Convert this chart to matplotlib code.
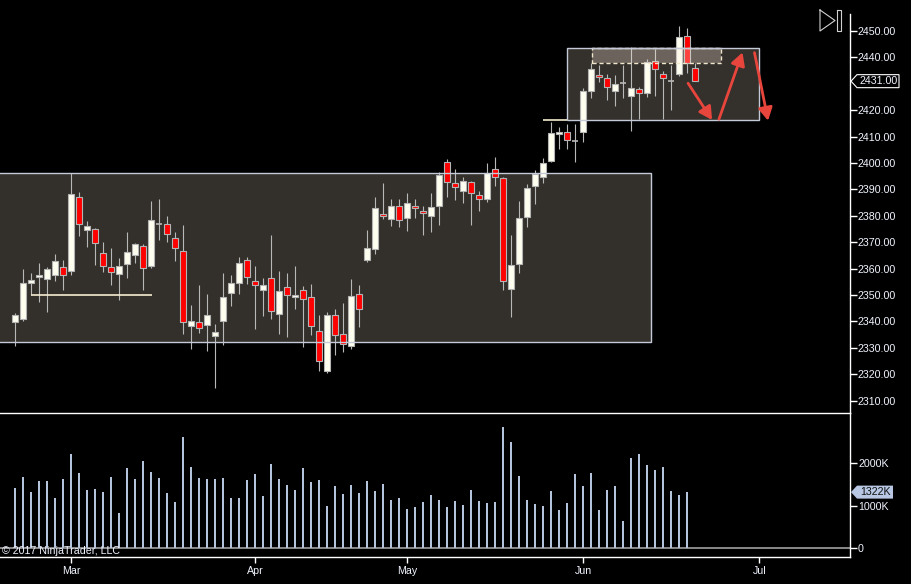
import numpy as np
import matplotlib
matplotlib.use('Agg')
import matplotlib.pyplot as plt
from matplotlib.patches import Rectangle, Polygon
from matplotlib.lines import Line2D

plt.rcParams['font.family'] = ['Liberation Sans', 'DejaVu Sans']

# daily bars, Feb 17 - Jun 21 2017 (bar index 0 = first bar)
opens = [2339.6, 2341.0, 2354.4, 2356.7, 2355.9, 2357.4, 2360.5, 2358.9, 2387.0, 2374.5,
         2374.9, 2365.8, 2360.6, 2357.8, 2361.9, 2365.3, 2368.4, 2361.1, 2376.8, 2376.8,
         2371.5, 2366.5, 2338.1, 2339.6, 2338.5, 2334.3, 2340.1, 2350.6, 2354.4, 2363.1,
         2355.2, 2351.8, 2356.3, 2342.9, 2352.9, 2349.1, 2351.8, 2349.1, 2336.2, 2321.3,
         2342.3, 2335.1, 2330.5, 2350.2, 2363.1, 2367.5, 2380.6, 2378.9, 2383.9, 2379.0,
         2383.9, 2381.7, 2379.8, 2383.6, 2400.2, 2392.3, 2389.3, 2392.7, 2387.7, 2386.2,
         2397.6, 2394.2, 2352.4, 2361.6, 2379.4, 2391.1, 2394.6, 2400.6, 2410.9, 2411.6,
         2408.4, 2411.6, 2427.1, 2433.2, 2432.1, 2427.1, 2430.2, 2425.2, 2427.9, 2426.4,
         2438.5, 2433.9, 2431.2, 2433.6, 2448.0, 2435.9]
highs = [2343.0, 2359.8, 2358.3, 2362.1, 2360.5, 2365.5, 2363.3, 2396.1, 2389.0, 2378.0,
         2375.2, 2370.1, 2367.8, 2364.0, 2373.9, 2369.6, 2369.3, 2385.6, 2386.4, 2379.9,
         2373.9, 2376.5, 2346.2, 2353.8, 2350.4, 2339.0, 2358.3, 2357.6, 2364.4, 2364.4,
         2360.8, 2356.4, 2372.6, 2359.1, 2358.3, 2361.0, 2353.3, 2354.0, 2342.4, 2343.5,
         2344.7, 2346.8, 2356.0, 2353.8, 2374.6, 2387.1, 2392.4, 2386.2, 2386.2, 2388.6,
         2386.2, 2383.6, 2388.6, 2396.7, 2401.5, 2397.7, 2394.7, 2393.0, 2389.4, 2400.0,
         2402.3, 2394.6, 2372.7, 2385.6, 2392.0, 2397.2, 2401.8, 2415.4, 2413.6, 2414.8,
         2414.8, 2428.3, 2437.8, 2437.0, 2433.7, 2433.2, 2437.3, 2443.8, 2428.9, 2439.3,
         2443.2, 2434.7, 2437.2, 2451.9, 2451.1, 2437.8]
lows = [2330.8, 2340.3, 2349.9, 2347.5, 2343.7, 2355.4, 2352.0, 2357.6, 2372.3, 2368.2,
        2361.4, 2358.7, 2353.8, 2348.2, 2356.6, 2362.2, 2352.0, 2360.3, 2370.8, 2370.2,
        2363.0, 2335.3, 2329.6, 2335.7, 2328.9, 2314.6, 2330.9, 2345.9, 2350.5, 2354.3,
        2337.2, 2342.2, 2341.0, 2335.3, 2334.2, 2344.8, 2330.4, 2335.0, 2321.3, 2320.3,
        2327.4, 2328.5, 2329.6, 2338.0, 2362.6, 2365.6, 2378.8, 2376.3, 2375.9, 2374.4,
        2379.3, 2372.9, 2373.7, 2376.6, 2387.2, 2386.1, 2385.0, 2376.6, 2381.9, 2385.3,
        2391.4, 2352.0, 2341.8, 2358.4, 2375.9, 2384.3, 2392.3, 2400.2, 2405.4, 2405.4,
        2400.5, 2408.1, 2424.7, 2430.8, 2423.9, 2421.7, 2424.6, 2412.2, 2416.8, 2425.1,
        2425.5, 2416.5, 2420.2, 2432.8, 2434.0, 2431.0]
closes = [2342.3, 2354.4, 2355.5, 2357.4, 2359.7, 2362.7, 2357.4, 2388.1, 2376.8, 2376.0,
          2369.8, 2361.1, 2358.6, 2360.8, 2366.2, 2369.2, 2360.3, 2378.3, 2376.8, 2373.0,
          2367.7, 2339.6, 2340.0, 2337.4, 2342.3, 2335.8, 2349.1, 2354.4, 2362.0, 2356.7,
          2353.6, 2353.9, 2343.8, 2351.4, 2349.9, 2349.9, 2348.3, 2338.1, 2324.9, 2342.3,
          2334.7, 2331.3, 2349.5, 2344.8, 2367.7, 2382.8, 2379.8, 2383.6, 2378.3, 2384.7,
          2383.1, 2380.9, 2383.2, 2395.5, 2392.7, 2390.8, 2393.0, 2388.5, 2386.2, 2396.1,
          2394.6, 2355.2, 2361.2, 2379.0, 2390.4, 2395.8, 2399.9, 2411.2, 2411.6, 2408.6,
          2408.4, 2427.3, 2435.5, 2432.4, 2428.7, 2429.8, 2430.2, 2428.3, 2426.4, 2438.1,
          2435.5, 2432.1, 2431.2, 2447.6, 2437.8, 2431.0]
# volume in thousands
volumes = [1419, 1678, 1325, 1584, 1584, 1184, 1631, 2219, 1772, 1372,
           1396, 1325, 1678, 831, 1889, 1631, 2054, 1795, 1654, 1301,
           1090, 2619, 1913, 1654, 1631, 1631, 1654, 1184, 1184, 1607,
           1748, 1231, 1984, 1631, 1490, 1372, 1889, 1560, 1607, 996,
           1466, 1278, 1490, 1301, 1584, 1348, 1513, 1137, 1184, 925,
           972, 1090, 1254, 1137, 972, 1113, 1019, 1372, 1113, 1066,
           1090, 2854, 2501, 1701, 1137, 1043, 996, 1348, 902, 1066,
           1748, 1466, 1772, 902, 1372, 1466, 643, 2125, 2219, 1960,
           1842, 1913, 1348, 1254, 1322]

month_labels = ['Mar', 'Apr', 'May', 'Jun', 'Jul']
month_index = [7, 30, 49, 71, 93]

# drawings on the chart (bar index, price)
range_box = (-3, 79.5, 2332.1, 2396.1)
top_box = (69, 93, 2416.3, 2443.4)
dash_box = (72.1, 88.25, 2437.8, 2443.4)
support_line = (2.0, 17.1, 2349.9)
box_ext_line = (66.0, 69.0, 2416.3)
arrows = [((84.1, 2430.2), (87.1, 2416.3)),
          ((87.96, 2416.6), (90.9, 2441.9)),
          ((92.4, 2441.8), (94.1, 2416.0))]

W, H = 911, 584
fig = plt.figure(figsize=(W / 100, H / 100), dpi=100, facecolor='black')
ax = fig.add_axes([0, 1 - 413 / H, 850 / W, (413 - 14) / H])
ax2 = fig.add_axes([0, 1 - 557 / H, 850 / W, (557 - 413) / H])

xlim = (-1.9125, 104.34)
txt = '#f0f4ff'
fs = 7.7

# price panel
ax.set_facecolor('black')
ax.set_xlim(*xlim)
ax.set_ylim(2305.3, 2456.44)
for s in ['left', 'top', 'bottom']:
    ax.spines[s].set_visible(False)
ax.spines['right'].set_color('white')
ax.spines['right'].set_linewidth(1)
ax.set_xticks([])
ax.yaxis.tick_right()
# the 2430 label sits under the last-price marker, so it is not shown
yt = [v for v in range(2310, 2451, 10) if v != 2430]
ax.set_yticks(yt)
ax.set_yticklabels([f'{v:.2f}' for v in yt])
ax.tick_params(axis='y', colors='white', labelcolor=txt, length=5, width=1, pad=0.6, labelsize=fs)

x = np.arange(len(opens))
o = np.array(opens); c = np.array(closes)
up = c > o
down = c < o
flat = c == o

# boxes (fill behind)
x0, x1, y0, y1 = range_box
ax.add_patch(Rectangle((x0, y0), x1 - x0, y1 - y0, facecolor='#33302b', edgecolor='none', zorder=0.5))
x0, x1, y0, y1 = top_box
ax.add_patch(Rectangle((x0, y0), x1 - x0, y1 - y0, facecolor='#34302b', edgecolor='none', zorder=0.5))

ax.vlines(x, lows, highs, color='#b8b8b8', linewidth=0.8, zorder=1.5)
ax.bar(x[up], (c - o)[up], bottom=o[up], width=0.8, color='#fffff0', edgecolor='#b4b4b4',
       linewidth=0.8, zorder=2)
ax.bar(x[down], (o - c)[down], bottom=c[down], width=0.8, color='#ff0000', edgecolor='#b4b4b4',
       linewidth=0.8, zorder=2)
ax.hlines(c[flat], x[flat] - 0.4, x[flat] + 0.4, color='#b8b8b8', linewidth=1.2, zorder=2)

# box outlines on top
for bx in (range_box, top_box):
    x0, x1, y0, y1 = bx
    ax.add_patch(Rectangle((x0, y0), x1 - x0, y1 - y0, facecolor='none', edgecolor='#c4cad8',
                           linewidth=1.0, zorder=3))
x0, x1, y0, y1 = dash_box
ax.add_patch(Rectangle((x0, y0), x1 - x0, y1 - y0, facecolor='#ffeedd', alpha=0.28,
                       edgecolor='none', zorder=3.5))
ax.add_patch(Rectangle((x0, y0), x1 - x0, y1 - y0, facecolor='none', edgecolor='#f0e6cc',
                       linewidth=1.0, linestyle=(0, (3, 2)), zorder=3.6))
ax.plot([x0, x1], [y1, y1], color='#c4cad8', linewidth=1.0, zorder=3.7)

ax.hlines(support_line[2], support_line[0], support_line[1], color='#f5ecd0', linewidth=1.2, zorder=3)
ax.hlines(box_ext_line[2], box_ext_line[0], box_ext_line[1], color='#f5ecd0', linewidth=1.2, zorder=3)

for tail, head in arrows:
    ax.annotate('', xy=head, xytext=tail,
                arrowprops=dict(arrowstyle='-|>,head_length=0.55,head_width=0.3', color='#e8453c',
                                linewidth=2.0, shrinkA=0, shrinkB=0, mutation_scale=14),
                zorder=5)

# volume panel
ax2.set_facecolor('black')
ax2.set_xlim(*xlim)
ax2.set_ylim(-204.7, 3183.5)
ax2.spines['left'].set_visible(False)
for s in ['top', 'bottom', 'right']:
    ax2.spines[s].set_color('white')
    ax2.spines[s].set_linewidth(1)
ax2.yaxis.tick_right()
ax2.set_yticks([0, 1000, 2000])
ax2.set_yticklabels(['0', '1000K', '2000K'])
ax2.set_xticks(month_index)
ax2.set_xticklabels(month_labels)
ax2.tick_params(axis='y', colors='white', labelcolor=txt, length=5, width=1, pad=0.8, labelsize=fs)
ax2.tick_params(axis='x', colors='white', labelcolor=txt, length=4, width=1, pad=2.5, labelsize=fs)
ax2.axhline(0, color='#a0a0a0', linewidth=1.2, zorder=1)
ax2.bar(np.arange(len(volumes)), volumes, width=0.27, color='#b4c4dc', zorder=2)

# last price marker
yp = ax.transData.transform((0, closes[-1]))[1]
ax.add_artist(Polygon([(851, yp), (857, yp + 6.5), (899, yp + 6.5), (899, yp - 6.5), (857, yp - 6.5)],
                      closed=True, facecolor='black', edgecolor='white', linewidth=0.8,
                      transform=None, clip_on=False, zorder=10))
fig.text(878.5 / W, yp / H, f'{closes[-1]:.2f}', color=txt, fontsize=fs, ha='center', va='center')

# last volume marker
yv = ax2.transData.transform((0, volumes[-1]))[1]
ax2.add_artist(Polygon([(851, yv), (857, yv + 6.5), (893, yv + 6.5), (893, yv - 6.5), (857, yv - 6.5)],
                       closed=True, facecolor='#b8c8e4', edgecolor='none',
                       transform=None, clip_on=False, zorder=10))
fig.text(875.5 / W, yv / H, f'{volumes[-1]}K', color='#101010', fontsize=fs, ha='center', va='center')

# icon top right
fig.add_artist(Line2D(np.array([820, 835, 820, 820]) / W, 1 - np.array([10, 20.5, 31, 10]) / H,
                      color='#d0d0d0', linewidth=0.8, transform=fig.transFigure))
fig.add_artist(Line2D(np.array([837, 841, 841, 837, 837]) / W, 1 - np.array([10, 10, 31, 31, 10]) / H,
                      color='#d0d0d0', linewidth=0.8, transform=fig.transFigure))

fig.text(2 / W, 1 - 551 / H, '\u00a9 2017 NinjaTrader, LLC', color=txt, fontsize=fs, va='center')

fig.savefig('out.png', dpi=100, facecolor='black')
